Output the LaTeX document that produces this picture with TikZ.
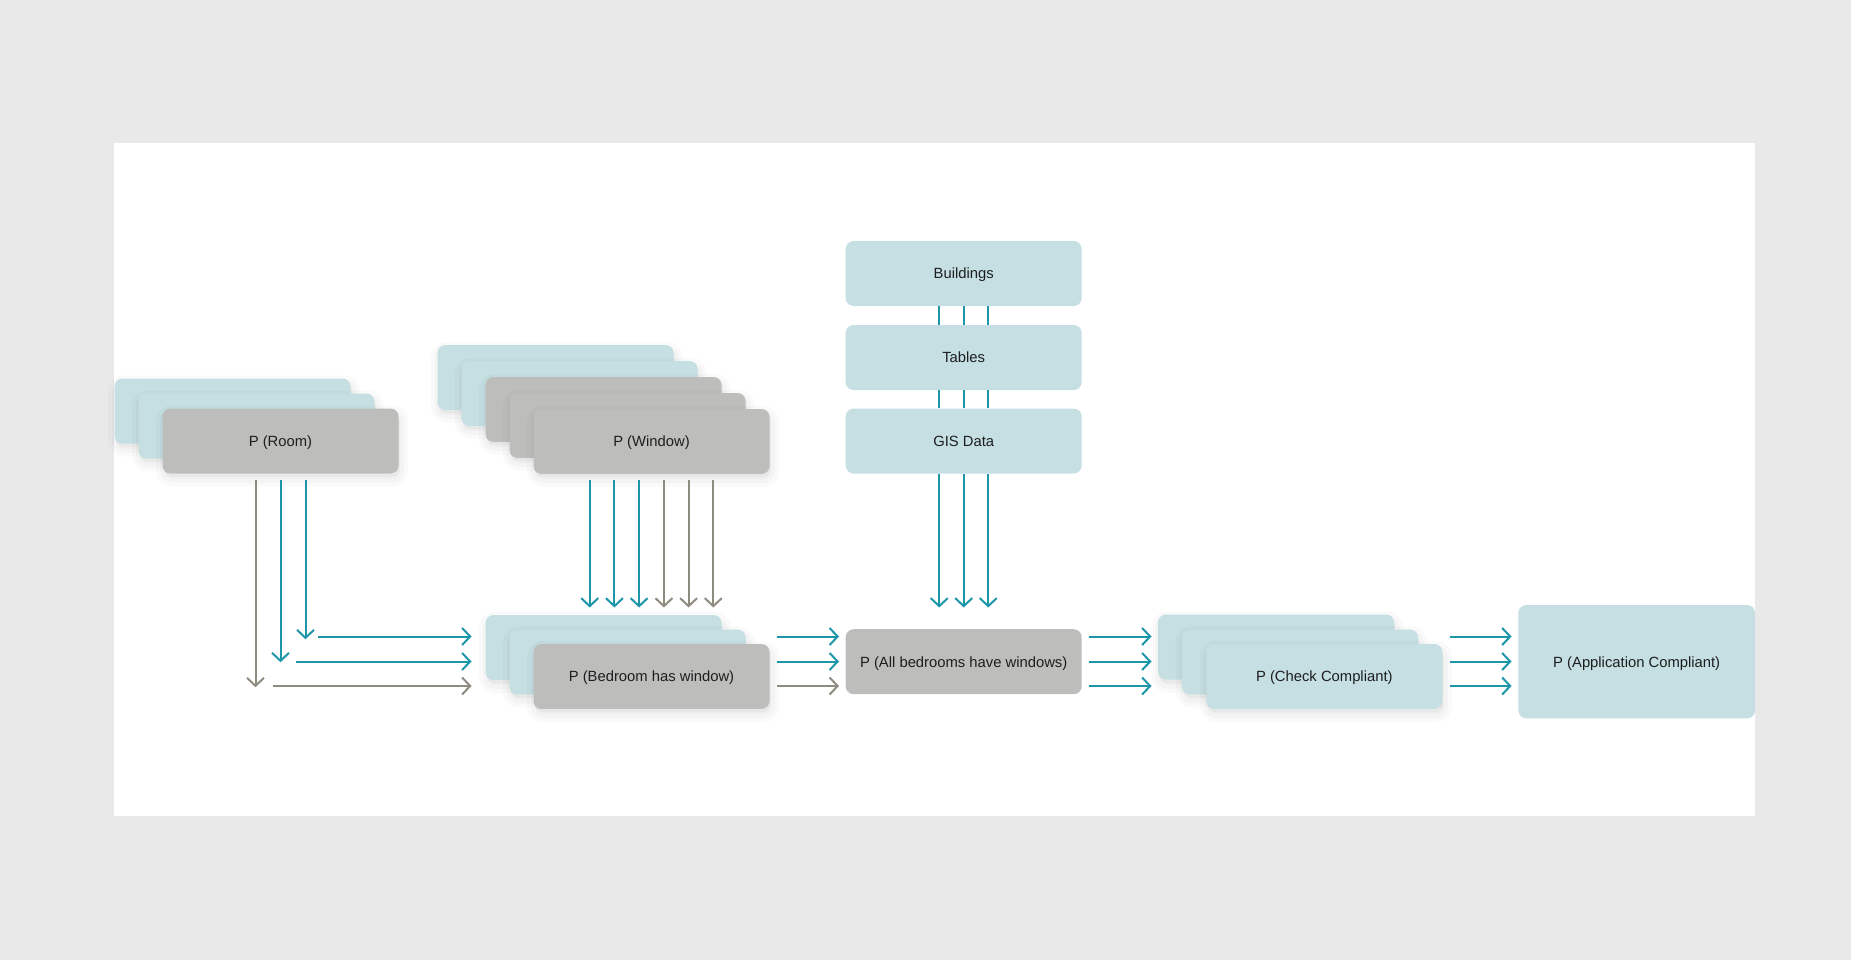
\documentclass[tikz,border=0pt]{standalone}
\usepackage{fontspec}
\setmainfont{Liberation Sans}
\usetikzlibrary{arrows.meta,calc}
\definecolor{bgc}{HTML}{E9E9E9}
\definecolor{tealbox}{HTML}{C5DFE3}
\definecolor{graybox}{HTML}{BDBEBB}
\definecolor{tealline}{HTML}{1E96AA}
\definecolor{grayline}{HTML}{8E8C80}
\definecolor{txt}{HTML}{1E1E1E}
\begin{document}
\begin{tikzpicture}[x=1pt,y=-1pt,
 card/.style={rectangle, rounded corners=8pt, minimum width=236pt, minimum height=65pt, inner sep=0pt, text depth=0pt, font=\fontsize{14.8}{17}\selectfont, text=txt},
 tcard/.style={card, fill=tealbox},
 gcard/.style={card, fill=graybox},
 shad/.style={
   preaction={draw=black, draw opacity=0.018, line width=16pt, fill=black, fill opacity=0.018, transform canvas={xshift=1.5pt,yshift=-5pt}},
   preaction={draw=black, draw opacity=0.022, line width=8pt, transform canvas={xshift=1.5pt,yshift=-5pt}},
   preaction={fill=black, fill opacity=0.03, transform canvas={xshift=1pt,yshift=-3pt}}},
 tarr/.style={draw=tealline, line width=2pt, -{Straight Barb[length=8pt,width=17pt]}},
 garr/.style={tarr, draw=grayline},
 tlink/.style={draw=tealline, line width=2pt},
]
\fill[bgc] (0,0) rectangle (1851,960);
\fill[white] (114,143) rectangle (1755,816);
\useasboundingbox (0,0) rectangle (1851,960);

% Room stack
\node[tcard,shad] (r1) at (232.5,411) {};
\node[tcard,shad] (r2) at (256.5,426) {};
\node[gcard,shad] (room) at (280.5,441) {P (Room)};

% Window stack
\node[tcard,shad] (w1) at (555.5,377.5) {};
\node[tcard,shad] (w2) at (579.5,393.5) {};
\node[gcard,shad] (w3) at (603.5,409.5) {};
\node[gcard,shad] (w4) at (627.5,425.5) {};
\node[gcard,shad] (window) at (651.5,441.5) {P (Window)};

% Bedroom stack
\node[tcard,shad] (b1) at (603.5,647.5) {};
\node[tcard,shad] (b2) at (627.5,662) {};
\node[gcard,shad] (bed) at (651.5,676.5) {P (Bedroom has window)};

% Centre column
\node[tcard] (bld) at (963.7,273.5) {Buildings};
\node[tcard] (tab) at (963.7,357.5) {Tables};
\node[tcard] (gis) at (963.7,441) {GIS Data};
\node[gcard] (all) at (963.7,661.7) {P (All bedrooms have windows)};

% Check stack
\node[tcard,shad] (c1) at (1276,647) {};
\node[tcard,shad] (c2) at (1300,662) {};
\node[tcard,shad] (chk) at (1324.3,676.5) {P (Check Compliant)};

% Application
\node[tcard, minimum width=236.7pt, minimum height=113.3pt] (app) at (1636.7,661.7) {P (Application Compliant)};

% Room arrows
\draw[garr] ($(room.south)+(-25,6.5)$) -- ++(0,207);
\draw[tarr] ($(room.south)+(0,6.5)$) -- ++(0,182);
\draw[tarr] ($(room.south)+(25,6.5)$) -- ++(0,159);
\draw[tarr] ($(b1.west)+(-167.2,-11)$) -- ($(b1.west)+(-13.8,-11)$);
\draw[tarr] ($(b1.west)+(-189.8,14)$) -- ($(b1.west)+(-13.8,14)$);
\draw[garr] ($(b1.west)+(-212.5,38.5)$) -- ($(b1.west)+(-13.8,38.5)$);

% Window arrows
\draw[tarr] ($(window.south)+(-61.8,6)$) -- ($(b1.north)+(-13.8,-7.3)$);
\draw[tarr] ($(window.south)+(-37.1,6)$) -- ($(b1.north)+(10.9,-7.3)$);
\draw[tarr] ($(window.south)+(-12.4,6)$) -- ($(b1.north)+(35.6,-7.3)$);
\draw[garr] ($(window.south)+(12.4,6)$) -- ($(b1.north)+(60.4,-7.3)$);
\draw[garr] ($(window.south)+(37.1,6)$) -- ($(b1.north)+(85.1,-7.3)$);
\draw[garr] ($(window.south)+(61.8,6)$) -- ($(b1.north)+(109.8,-7.3)$);

% Data links
\draw[tlink] ($(bld.south)+(-24.5,0)$) -- ($(tab.north)+(-24.5,0)$);
\draw[tlink] (bld.south) -- (tab.north);
\draw[tlink] ($(bld.south)+(24.5,0)$) -- ($(tab.north)+(24.5,0)$);
\draw[tlink] ($(tab.south)+(-24.5,0)$) -- ($(gis.north)+(-24.5,0)$);
\draw[tlink] (tab.south) -- (gis.north);
\draw[tlink] ($(tab.south)+(24.5,0)$) -- ($(gis.north)+(24.5,0)$);
\draw[tarr] ($(gis.south)+(-24.5,0)$) -- ($(all.north)+(-24.5,-21.5)$);
\draw[tarr] (gis.south) -- ($(all.north)+(0,-21.5)$);
\draw[tarr] ($(gis.south)+(24.5,0)$) -- ($(all.north)+(24.5,-21.5)$);

% Bedroom -> All
\draw[tarr] ($(bed.east)+(7,-40)$) -- ($(all.west)+(-6.5,-25.2)$);
\draw[tarr] ($(bed.east)+(7,-15)$) -- ($(all.west)+(-6.5,-0.2)$);
\draw[garr] ($(bed.east)+(7,9.5)$) -- ($(all.west)+(-6.5,24.3)$);

% All -> Check
\draw[tarr] ($(all.east)+(6.6,-25.2)$) -- ($(c1.west)+(-6.3,-10.5)$);
\draw[tarr] ($(all.east)+(6.6,-0.2)$) -- ($(c1.west)+(-6.3,14.5)$);
\draw[tarr] ($(all.east)+(6.6,24.3)$) -- ($(c1.west)+(-6.3,39)$);

% Check -> App
\draw[tarr] ($(chk.east)+(7,-40)$) -- ($(app.west)+(-6.6,-25.2)$);
\draw[tarr] ($(chk.east)+(7,-15)$) -- ($(app.west)+(-6.6,-0.2)$);
\draw[tarr] ($(chk.east)+(7,9.5)$) -- ($(app.west)+(-6.6,24.3)$);
\end{tikzpicture}
\end{document}
